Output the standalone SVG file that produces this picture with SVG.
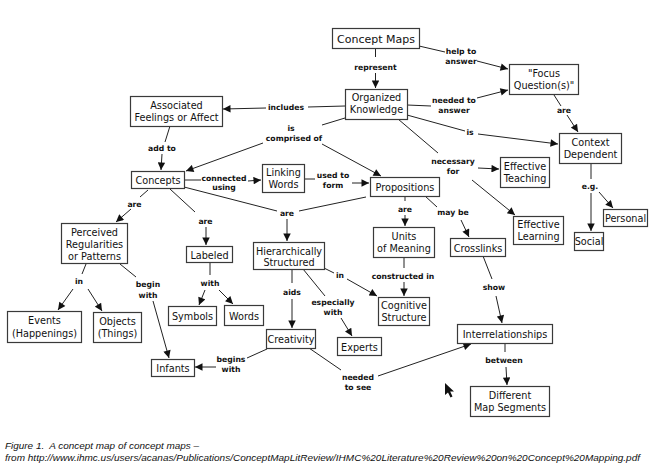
<svg xmlns="http://www.w3.org/2000/svg" width="662" height="466" viewBox="0 0 662 466">
<defs>
<marker id="ah" viewBox="0 0 10 10" refX="10" refY="5" markerWidth="9" markerHeight="7.5" markerUnits="userSpaceOnUse" orient="auto"><path d="M0,0 L10,5 L0,10 z" fill="#111"/></marker>
<style>
.n{fill:#fff;stroke:#3a3a3a;stroke-width:1.2}
.t{font-family:"DejaVu Sans",sans-serif;font-size:9.7px;text-anchor:middle;fill:#111}
.big{font-size:11px}
.l{font-family:"DejaVu Sans",sans-serif;font-size:7.7px;font-weight:bold;text-anchor:middle;fill:#111}
.c line{stroke:#222;stroke-width:1}
.c line.a{marker-end:url(#ah)}
.cap{font-family:"Liberation Sans",Arial,sans-serif;font-size:9.6px;font-style:italic;fill:#111;white-space:pre}
</style>
</defs>
<rect width="662" height="466" fill="#fff"/>
<g id="connectors" class="c">
<line x1="375.5" y1="48" x2="375.5" y2="57"/><line class="a" x1="375.5" y1="73" x2="375.5" y2="88"/>
<line x1="419" y1="46" x2="445" y2="52"/><line class="a" x1="477" y1="61" x2="508" y2="69"/>
<line x1="345" y1="106" x2="308" y2="107"/><line class="a" x1="266" y1="108" x2="223" y2="109"/>
<line x1="407" y1="105" x2="431" y2="106"/><line class="a" x1="477" y1="98" x2="508" y2="90"/>
<line x1="407" y1="115" x2="465" y2="131"/><line class="a" x1="478" y1="134" x2="558" y2="144"/>
<line x1="554" y1="95" x2="561" y2="106"/><line class="a" x1="567" y1="115" x2="578" y2="132"/>
<line x1="345" y1="118" x2="322" y2="125"/><line class="a" x1="263" y1="143" x2="186" y2="171"/><line class="a" x1="322" y1="144" x2="381" y2="176"/>
<line x1="170" y1="126" x2="165" y2="142"/><line class="a" x1="162" y1="154" x2="161" y2="170"/>
<line x1="184" y1="180" x2="201" y2="180"/><line class="a" x1="248" y1="181" x2="261" y2="180"/>
<line x1="304" y1="179" x2="315" y2="179"/><line class="a" x1="352" y1="183" x2="369" y2="183"/>
<line x1="184" y1="187" x2="277" y2="211"/><line x1="366" y1="197" x2="299" y2="211"/><line class="a" x1="287" y1="219" x2="287" y2="241"/>
<line x1="148" y1="190" x2="140" y2="197"/><line class="a" x1="131" y1="209" x2="116" y2="222"/>
<line x1="170" y1="189" x2="195" y2="212"/><line class="a" x1="206" y1="227" x2="206" y2="245"/>
<line x1="86" y1="264" x2="82" y2="274"/><line class="a" x1="73" y1="289" x2="58" y2="310"/><line class="a" x1="88" y1="289" x2="102" y2="311"/>
<line x1="120" y1="264" x2="136" y2="277"/><line class="a" x1="153" y1="301" x2="169" y2="358"/>
<line x1="210" y1="262" x2="210" y2="275"/><line class="a" x1="205" y1="290" x2="199" y2="305"/><line class="a" x1="219" y1="290" x2="233" y2="304"/>
<line x1="292" y1="270" x2="292" y2="283"/><line class="a" x1="292" y1="299" x2="292" y2="328"/>
<line x1="303" y1="269" x2="325" y2="296"/><line class="a" x1="341" y1="318" x2="352" y2="336"/>
<line x1="324" y1="268" x2="334" y2="273"/><line class="a" x1="347" y1="279" x2="377" y2="296"/>
<line x1="405" y1="196" x2="405" y2="201"/><line class="a" x1="405" y1="215" x2="405" y2="226"/>
<line x1="404" y1="257" x2="404" y2="268"/><line class="a" x1="404" y1="282" x2="404" y2="296"/>
<line x1="425" y1="196" x2="437" y2="207"/><line class="a" x1="461" y1="220" x2="469" y2="237"/>
<line x1="398" y1="119" x2="438" y2="153"/><line class="a" x1="478" y1="168" x2="499" y2="169"/><line class="a" x1="472" y1="180" x2="515" y2="215"/>
<line x1="591" y1="163" x2="591" y2="179"/><line class="a" x1="591" y1="193" x2="591" y2="231"/><line class="a" x1="599" y1="192" x2="613" y2="208"/>
<line x1="483" y1="256" x2="492" y2="279"/><line class="a" x1="496" y1="296" x2="502" y2="323"/>
<line x1="267" y1="349" x2="247" y2="358"/><line class="a" x1="216" y1="367" x2="195" y2="367"/>
<line x1="309" y1="348" x2="341" y2="370"/><line class="a" x1="378" y1="376" x2="471" y2="344"/>
<line x1="505" y1="343" x2="505" y2="352"/><line class="a" x1="506" y1="367" x2="507" y2="385"/>
</g>
<g id="linking-phrases">
<text class="l" x="375.5" y="69.5">represent</text>
<text class="l" x="461" y="54">help to</text><text class="l" x="461" y="63.5">answer</text>
<text class="l" x="286" y="110">includes</text>
<text class="l" x="454" y="103">needed to</text><text class="l" x="454" y="112.5">answer</text>
<text class="l" x="470" y="135">is</text>
<text class="l" x="564" y="113">are</text>
<text class="l" x="291" y="131">is</text><text class="l" x="294" y="141">comprised of</text>
<text class="l" x="162" y="151">add to</text>
<text class="l" x="224" y="181">connected</text><text class="l" x="224" y="190">using</text>
<text class="l" x="333" y="178">used to</text><text class="l" x="333" y="188">form</text>
<text class="l" x="287" y="216">are</text>
<text class="l" x="134.5" y="207">are</text>
<text class="l" x="205.5" y="224">are</text>
<text class="l" x="79" y="284">in</text>
<text class="l" x="148" y="287">begin</text><text class="l" x="148" y="298">with</text>
<text class="l" x="210" y="286">with</text>
<text class="l" x="292" y="295">aids</text>
<text class="l" x="333" y="305">especially</text><text class="l" x="333" y="315">with</text>
<text class="l" x="340" y="278">in</text>
<text class="l" x="405" y="212">are</text>
<text class="l" x="403" y="279">constructed in</text>
<text class="l" x="453" y="215">may be</text>
<text class="l" x="453" y="164">necessary</text><text class="l" x="453" y="174">for</text>
<text class="l" x="590" y="189">e.g.</text>
<text class="l" x="494" y="290">show</text>
<text class="l" x="231" y="362">begins</text><text class="l" x="231" y="372">with</text>
<text class="l" x="358" y="380">needed</text><text class="l" x="358" y="390">to see</text>
<text class="l" x="504" y="363">between</text>
</g>
<g id="concept-maps"><rect class="n" x="332.5" y="28.5" width="87" height="20"/><text class="t big" x="376" y="42.5">Concept Maps</text></g>
<g id="organized-knowledge"><rect class="n" x="345.5" y="89.5" width="62" height="30"/><text class="t" x="376.5" y="101">Organized</text><text class="t" x="376.5" y="113">Knowledge</text></g>
<g id="focus-questions"><rect class="n" x="509.5" y="64.5" width="69" height="30"/><text class="t" x="544" y="76.5">"Focus</text><text class="t" x="544" y="88.5">Question(s)"</text></g>
<g id="context-dependent"><rect class="n" x="559.5" y="133.5" width="62" height="30"/><text class="t" x="590.5" y="145.5">Context</text><text class="t" x="590.5" y="157.5">Dependent</text></g>
<g id="associated-feelings"><rect class="n" x="130.5" y="96.5" width="92" height="30"/><text class="t" x="176.5" y="108.5">Associated</text><text class="t" x="176.5" y="120.5">Feelings or Affect</text></g>
<g id="concepts"><rect class="n" x="131.5" y="171.5" width="53" height="17"/><text class="t" x="158" y="183.5">Concepts</text></g>
<g id="linking-words"><rect class="n" x="262.5" y="164.5" width="42" height="28"/><text class="t" x="283.5" y="176">Linking</text><text class="t" x="283.5" y="188">Words</text></g>
<g id="propositions"><rect class="n" x="370.5" y="177.5" width="69" height="19"/><text class="t" x="405" y="190.5">Propositions</text></g>
<g id="perceived-regularities"><rect class="n" x="61.5" y="223.5" width="66" height="40"/><text class="t" x="94.5" y="236">Perceived</text><text class="t" x="94.5" y="248">Regularities</text><text class="t" x="94.5" y="259.5">or Patterns</text></g>
<g id="labeled"><rect class="n" x="186.5" y="246.5" width="46" height="16"/><text class="t" x="209.5" y="258.5">Labeled</text></g>
<g id="hierarchically-structured"><rect class="n" x="253.5" y="242.5" width="71" height="27"/><text class="t" x="289" y="254.5">Hierarchically</text><text class="t" x="289" y="266">Structured</text></g>
<g id="units-of-meaning"><rect class="n" x="373.5" y="227.5" width="61" height="30"/><text class="t" x="404" y="239.5">Units</text><text class="t" x="404" y="251.5">of Meaning</text></g>
<g id="cognitive-structure"><rect class="n" x="378.5" y="297.5" width="51" height="28"/><text class="t" x="404" y="309">Cognitive</text><text class="t" x="404" y="320.5">Structure</text></g>
<g id="events"><rect class="n" x="7.5" y="311.5" width="74" height="31"/><text class="t" x="44.5" y="324">Events</text><text class="t" x="44.5" y="336.5">(Happenings)</text></g>
<g id="objects"><rect class="n" x="93.5" y="312.5" width="48" height="30"/><text class="t" x="117.5" y="324.5">Objects</text><text class="t" x="117.5" y="336.5">(Things)</text></g>
<g id="symbols"><rect class="n" x="168.5" y="306.5" width="48" height="19"/><text class="t" x="192.5" y="319.5">Symbols</text></g>
<g id="words"><rect class="n" x="224.5" y="305.5" width="39" height="20"/><text class="t" x="244" y="319.5">Words</text></g>
<g id="creativity"><rect class="n" x="266.5" y="329.5" width="49" height="19"/><text class="t" x="291" y="342.5">Creativity</text></g>
<g id="experts"><rect class="n" x="337.5" y="337.5" width="44" height="18"/><text class="t" x="359.5" y="350.5">Experts</text></g>
<g id="infants"><rect class="n" x="151.5" y="359.5" width="43" height="17"/><text class="t" x="173" y="371.5">Infants</text></g>
<g id="effective-teaching"><rect class="n" x="500.5" y="157.5" width="49" height="30"/><text class="t" x="525" y="169.5">Effective</text><text class="t" x="525" y="181.5">Teaching</text></g>
<g id="effective-learning"><rect class="n" x="513.5" y="216.5" width="50" height="28"/><text class="t" x="538.5" y="228">Effective</text><text class="t" x="538.5" y="240">Learning</text></g>
<g id="personal"><rect class="n" x="603.5" y="209.5" width="44" height="17"/><text class="t" x="625.5" y="221.5">Personal</text></g>
<g id="social"><rect class="n" x="574.5" y="232.5" width="29" height="18"/><text class="t" x="589" y="245">Social</text></g>
<g id="crosslinks"><rect class="n" x="450.5" y="238.5" width="55" height="18"/><text class="t" x="478" y="251.5">Crosslinks</text></g>
<g id="interrelationships"><rect class="n" x="457.5" y="324.5" width="95" height="19"/><text class="t" x="505" y="337.5">Interrelationships</text></g>
<g id="different-map-segments"><rect class="n" x="470.5" y="386.5" width="79" height="30"/><text class="t" x="510" y="398.5">Different</text><text class="t" x="510" y="410.5">Map Segments</text></g>
<polygon id="cursor" points="445,383 445,395 448,392.5 450.5,397.5 452.5,396.5 450.2,391.5 454,391.5" fill="#111"/>
<g id="caption">
<text class="cap" x="5" y="448.5" textLength="194" lengthAdjust="spacingAndGlyphs">Figure 1.  A concept map of concept maps –</text>
<text class="cap" x="5" y="460.5" textLength="635" lengthAdjust="spacingAndGlyphs">from http://www.ihmc.us/users/acanas/Publications/ConceptMapLitReview/IHMC%20Literature%20Review%20on%20Concept%20Mapping.pdf</text>
</g>
</svg>
